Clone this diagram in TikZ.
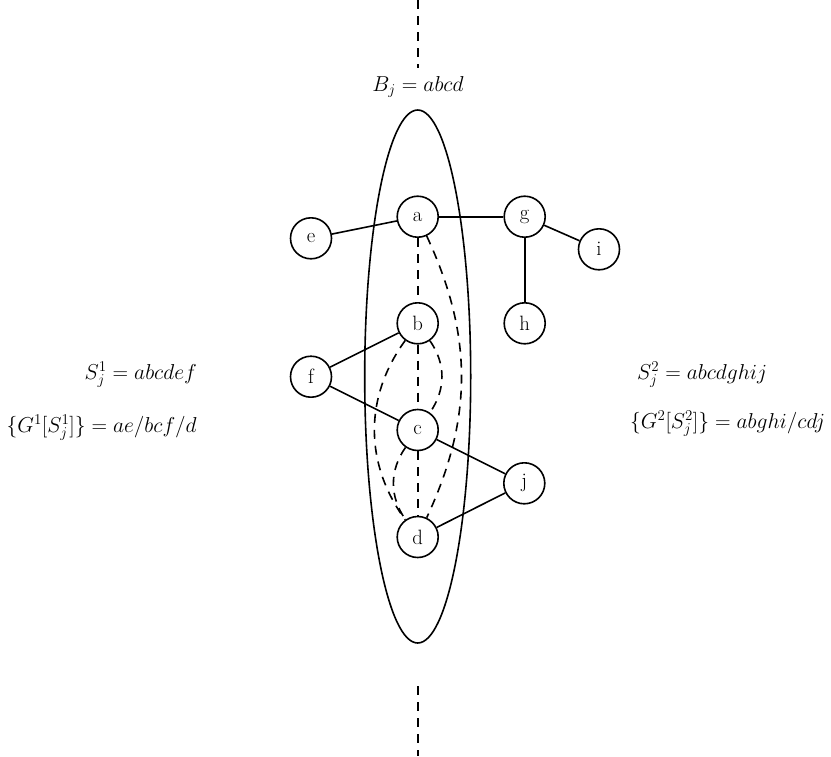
\documentclass[tikz,border=0pt]{standalone}
\usepackage{graphicx}
\usetikzlibrary{shapes.geometric}
\newcommand{\lbltext}[1]{\scalebox{1.04}{$#1$}}
\begin{document}
\begin{tikzpicture}[x=1pt,y=-1pt,
  vtx/.style={circle,draw,line width=1.6pt,minimum size=41pt,inner sep=0pt,font=\huge},
  edge/.style={line width=1.6pt},
  dedge/.style={line width=1.6pt,dash pattern=on 9pt off 7pt},
  lbl/.style={font=\huge,inner sep=0pt}]
\useasboundingbox (0,0) rectangle (831,756);
\node[vtx] (a) at (417.7,216.7) {a};
\node[vtx] (b) at (417.7,323.3) {b};
\node[vtx] (c) at (417.7,430) {c};
\node[vtx] (d) at (417.7,537) {d};
\node[vtx] (e) at (311,238.3) {e};
\node[vtx] (f) at (311,376.7) {f};
\node[vtx] (g) at (524.7,216.7) {g};
\node[vtx] (h) at (524.7,323.3) {h};
\node[vtx] (i) at (599,249.3) {i};
\node[vtx] (j) at (524.3,483.3) {j};
\node[draw,ellipse,line width=1.6pt,minimum width=106pt,minimum height=533pt,inner sep=0pt] (ell) at (417.7,376.5) {};
\coordinate (t1) at (417.7,0);
\coordinate (t2) at (417.7,68);
\coordinate (u1) at (417.7,686);
\coordinate (u2) at (417.7,756);
\draw[dedge] (t1) -- (t2);
\draw[dedge] (u1) -- (u2);
\node[lbl] (B) at (418,87) {\lbltext{B_j = abcd}};
\node[lbl,anchor=east] (S1) at (197,375) {\lbltext{S_j^1 = abcdef}};
\node[lbl,anchor=east] (G1) at (197,428) {\lbltext{\{G^1[S_j^1]\} = ae/bcf/d}};
\node[lbl,anchor=west] (S2) at (637,375) {\lbltext{S_j^2 = abcdghij}};
\node[lbl,anchor=west] (G2) at (630,424) {\lbltext{\{G^2[S_j^2]\} = abghi/cdj}};
\draw[edge] (e) -- (a);
\draw[edge] (a) -- (g);
\draw[edge] (g) -- (i);
\draw[edge] (g) -- (h);
\draw[edge] (f) -- (b);
\draw[edge] (f) -- (c);
\draw[edge] (c) -- (j);
\draw[edge] (j) -- (d);
\draw[dedge] (a) -- (b);
\draw[dedge] (b) -- (c);
\draw[dedge] (c) -- (d);
\draw[dedge] (a) to[bend left=25] (d);
\draw[dedge] (b) to[bend left=35] (c);
\draw[dedge] (c) to[bend right=35] (d);
\draw[dedge] (b) to[bend right=36] (d);
\end{tikzpicture}
\end{document}
